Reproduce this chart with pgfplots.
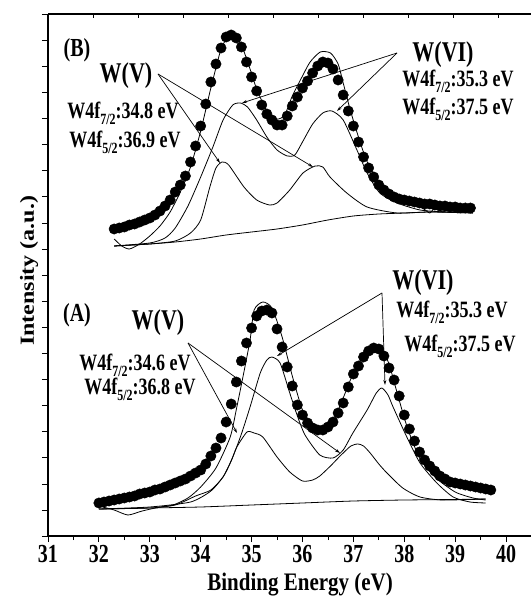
\documentclass[border=0pt]{standalone}
\usepackage{pgfplots}
\pgfplotsset{compat=1.18}
\usepackage{fontspec}
\setmainfont{Liberation Serif}
\usetikzlibrary{arrows.meta}
% text in the reference is stretched vertically
\newcommand{\vs}[1]{\scalebox{1}[1.3]{#1}}
\newcommand{\sub}[1]{\raisebox{-4pt}{\fontsize{12}{12}\selectfont #1}}

\begin{document}
\begin{tikzpicture}[x=1pt,y=1pt]
  \begin{axis}[
      at={(0,0)}, anchor=south west,
      scale only axis,
      width=483pt, height=522pt,
      xmin=31, xmax=40.49,
      ymin=0, ymax=522,
      axis x line*=bottom,
      axis y line*=left,
      axis line style={black, line width=1.1pt},
      tick style={black, line width=0.8pt},
      tick align=outside,
      xtick={31,...,40},
      xticklabels={\vs{31},\vs{32},\vs{33},\vs{34},\vs{35},\vs{36},\vs{37},\vs{38},\vs{39},\vs{40}},
      minor x tick num=1,
      major tick length=6pt,
      minor tick length=4pt,
      ytick={0,26.1,...,522},
      yticklabels=\empty,
      minor y tick num=0,
      y tick style={line width=0.4pt},
      tick label style={font=\fontsize{20}{20}\selectfont\bfseries},
      xlabel={\scalebox{1}[1.2]{Binding Energy (eV)}},
      xlabel style={font=\fontsize{21}{21}\selectfont\bfseries,
          at={(axis description cs:0.522,0)}, anchor=base, yshift=-54pt},
      ylabel={\scalebox{1.2}[1]{Intensity (a.u.)}},
      ylabel style={font=\fontsize{20}{20}\selectfont\bfseries,
          at={(axis description cs:-0.029,0.508)}, anchor=base},
      clip=false,
    ]

    % (B) measured points
    \addplot[only marks, mark=*, mark size=5.2pt, black] coordinates {
      (32.3,307) (32.4,308) (32.5,309) (32.6,311) (32.7,312) (32.8,314)
      (32.9,316) (33.0,318) (33.1,321) (33.2,325) (33.3,330) (33.4,336)
      (33.5,344) (33.6,351) (33.7,360) (33.8,374) (33.9,390) (34.0,410)
      (34.1,432) (34.2,454) (34.3,472) (34.4,488) (34.5,499) (34.6,501)
      (34.7,498) (34.8,489) (34.9,474) (35.0,459) (35.1,445) (35.2,431)
      (35.3,422) (35.4,416) (35.5,411) (35.6,411) (35.7,420) (35.8,430)
      (35.9,439) (36.0,448) (36.1,455) (36.2,463) (36.3,470) (36.4,474)
      (36.5,473) (36.6,467) (36.7,456) (36.8,441) (36.9,425) (37.0,410)
      (37.1,394) (37.2,379) (37.3,368) (37.4,359) (37.5,351) (37.6,346)
      (37.7,342) (37.8,339) (37.9,337) (38.0,336) (38.1,335) (38.2,334)
      (38.3,333) (38.4,332) (38.5,332) (38.6,331) (38.7,330) (38.8,330)
      (38.9,329) (39.0,329) (39.1,328) (39.2,328) (39.3,328)
    };

    % (A) measured points
    \addplot[only marks, mark=*, mark size=5.2pt, black] coordinates {
      (32.0,33) (32.1,34) (32.2,35) (32.3,36) (32.4,37) (32.5,38)
      (32.6,39) (32.7,40) (32.8,42) (32.9,43) (33.0,44) (33.1,46)
      (33.2,47) (33.3,49) (33.4,51) (33.5,53) (33.6,55) (33.7,57)
      (33.8,60) (33.9,63) (34.0,66) (34.1,72) (34.2,80) (34.3,88)
      (34.4,98) (34.5,114) (34.6,132) (34.7,154) (34.8,175) (34.9,193)
      (35.0,208) (35.1,220) (35.2,225) (35.3,226) (35.4,223) (35.5,207)
      (35.6,189) (35.7,169) (35.8,150) (35.9,131) (36.0,121) (36.1,113)
      (36.2,108) (36.3,106) (36.4,106) (36.5,109) (36.6,114) (36.7,123)
      (36.8,133) (36.9,149) (37.0,162) (37.1,170) (37.2,179) (37.3,185)
      (37.4,188) (37.5,187) (37.6,180) (37.7,168) (37.8,156) (37.9,140)
      (38.0,121) (38.1,107) (38.2,95) (38.3,84) (38.4,76) (38.5,70)
      (38.6,65) (38.7,60) (38.8,57) (38.9,54) (39.0,53) (39.1,52)
      (39.2,51) (39.3,50) (39.4,49) (39.5,48) (39.6,47) (39.7,46)
    };

    % (B) fit envelope
    \addplot[black, line width=0.8pt, smooth, tension=0.4] coordinates {
      (32.3,297) (32.45,290) (32.6,287) (32.8,292) (33.0,300) (33.2,310)
      (33.4,324) (33.6,344) (33.8,369) (34.0,405) (34.2,448) (34.4,487)
      (34.55,500) (34.65,501) (34.8,491) (34.95,470) (35.1,447) (35.3,425)
      (35.5,417) (35.65,421) (35.8,440) (36.0,460) (36.15,474) (36.35,484)
      (36.55,483) (36.7,472) (36.8,453) (36.95,424) (37.15,391) (37.3,371)
      (37.6,346) (38.0,334) (38.35,328) (38.5,323) (38.6,328) (38.75,324)
      (38.9,327) (39.05,323) (39.2,327) (39.35,323)
    };
    % (B) W(VI) doublet
    \addplot[black, line width=0.8pt, smooth, tension=0.4] coordinates {
      (32.3,290) (33.0,293) (33.3,298) (33.5,308) (33.75,330) (34.0,359)
      (34.24,389) (34.44,416) (34.63,431) (34.78,433) (34.92,429) (35.1,416)
      (35.3,399) (35.5,386) (35.7,380) (35.85,381) (36.0,394) (36.2,412)
      (36.4,423) (36.58,425) (36.8,416) (37.07,386) (37.27,363) (37.52,343)
      (37.86,333) (38.31,326) (38.8,324) (39.35,323)
    };
    % (B) W(V) doublet
    \addplot[black, line width=0.8pt, smooth, tension=0.4] coordinates {
      (32.3,290) (33.0,292) (33.5,295) (33.8,303) (34.0,316) (34.18,349)
      (34.3,368) (34.42,374) (34.55,371) (34.85,349) (35.1,336) (35.35,331)
      (35.5,333) (35.75,346) (36.01,363) (36.25,370) (36.4,369) (36.54,359)
      (36.87,343) (37.27,329) (37.86,323) (38.5,324) (39.35,323)
    };
    % (B) background
    \addplot[black, line width=0.8pt, smooth, tension=0.4] coordinates {
      (32.3,290) (33.0,292) (33.5,294) (34.0,297) (34.5,301) (35.0,304)
      (35.5,307) (36.0,311) (36.5,316) (37.0,320) (37.5,322) (38.0,323)
      (38.5,324) (39.35,324)
    };

    % (A) fit envelope
    \addplot[black, line width=0.8pt, smooth, tension=0.4] coordinates {
      (32.0,30) (32.3,26) (32.57,21) (32.85,25) (33.2,29) (33.46,31)
      (33.75,38) (34.0,49) (34.3,68) (34.58,99) (34.71,129) (34.83,159)
      (34.97,196) (35.05,226) (35.22,234) (35.4,228) (35.6,199) (35.8,160)
      (36.0,126) (36.2,110) (36.4,106) (36.6,114) (36.8,138) (37.0,163)
      (37.2,180) (37.4,189) (37.55,188) (37.7,172) (37.85,145) (38.05,110)
      (38.3,78) (38.6,59) (39.0,44) (39.35,38) (39.6,36)
    };
    % (A) W(VI) doublet
    \addplot[black, line width=0.8pt, smooth, tension=0.4] coordinates {
      (32.0,27) (33.0,29) (33.8,34) (34.2,45) (34.45,60) (34.63,79)
      (34.8,102) (34.97,129) (35.17,163) (35.3,176) (35.4,179) (35.56,173)
      (35.75,143) (35.9,120) (36.05,101) (36.34,81) (36.6,78) (36.8,86)
      (36.99,103) (37.27,126) (37.45,143) (37.56,148) (37.68,141) (37.78,129)
      (38.05,99) (38.31,73) (38.64,53) (38.96,39) (39.29,34) (39.6,33)
    };
    % (A) W(V) doublet
    \addplot[black, line width=0.8pt, smooth, tension=0.4] coordinates {
      (32.0,27) (33.0,28) (33.5,31) (33.9,40) (34.2,46) (34.44,59)
      (34.6,75) (34.71,89) (34.91,104) (35.05,103) (35.22,99) (35.5,79)
      (35.75,64) (36.0,55) (36.2,56) (36.34,60) (36.55,70) (36.74,80)
      (36.95,90) (37.09,92) (37.2,90) (37.33,83) (37.5,72) (37.66,63)
      (37.97,48) (38.31,39) (38.76,36) (39.6,37)
    };
    % (A) background
    \addplot[black, line width=0.8pt, smooth, tension=0.4] coordinates {
      (32.0,27) (33.0,28) (34.0,29) (35.0,31) (36.0,33) (37.0,35)
      (38.0,36) (39.0,36.5) (39.6,37)
    };
  \end{axis}

  % top frame line with its small ticks
  \draw[line width=1.1pt] (0,522) -- (483,522);
  \foreach \k in {1,...,10} \draw[line width=0.5pt] (45*\k,522) -- (45*\k,518);

  % annotations, spectrum (B)
  \begin{scope}[every node/.style={anchor=base, inner sep=0pt}]
    \node[font=\fontsize{20}{20}\selectfont\bfseries] at (29,479) {\vs{(B)}};
    \node[font=\fontsize{22}{22}\selectfont\bfseries] at (78,453) {\vs{W(V)}};
    \node[font=\fontsize{18}{18}\selectfont\bfseries] at (75,417) {\vs{W4f\sub{7/2}:34.8 eV}};
    \node[font=\fontsize{18}{18}\selectfont\bfseries] at (77,388) {\vs{W4f\sub{5/2}:36.9 eV}};
    \node[font=\fontsize{22}{22}\selectfont\bfseries] at (395,474) {\vs{W(VI)}};
    \node[font=\fontsize{18}{18}\selectfont\bfseries] at (410,449) {\vs{W4f\sub{7/2}:35.3 eV}};
    \node[font=\fontsize{18}{18}\selectfont\bfseries] at (410,421) {\vs{W4f\sub{5/2}:37.5 eV}};

    % annotations, spectrum (A)
    \node[font=\fontsize{20}{20}\selectfont\bfseries] at (29,214) {\vs{(A)}};
    \node[font=\fontsize{22}{22}\selectfont\bfseries] at (110,206) {\vs{W(V)}};
    \node[font=\fontsize{18}{18}\selectfont\bfseries] at (87,165) {\vs{W4f\sub{7/2}:34.6 eV}};
    \node[font=\fontsize{18}{18}\selectfont\bfseries] at (92,141) {\vs{W4f\sub{5/2}:36.8 eV}};
    \node[font=\fontsize{22}{22}\selectfont\bfseries] at (375,246) {\vs{W(VI)}};
    \node[font=\fontsize{18}{18}\selectfont\bfseries] at (404,218) {\vs{W4f\sub{7/2}:35.3 eV}};
    \node[font=\fontsize{18}{18}\selectfont\bfseries] at (412,184) {\vs{W4f\sub{5/2}:37.5 eV}};
  \end{scope}

  \begin{scope}[line width=0.7pt, -{Stealth[length=5pt,width=3pt]}]
    \draw (110,462) -- (172,373);
    \draw (110,462) -- (265,369);
    \draw (349,483) -- (194,433);
    \draw (349,483) -- (289,425);
    \draw (140,193) -- (189,103);
    \draw (140,193) -- (292,83);
    \draw (334,243) -- (229,180);
    \draw (334,243) -- (337,151);
  \end{scope}

  \pgfresetboundingbox
  \useasboundingbox (-48,-60) rectangle (483,536);
\end{tikzpicture}
\end{document}
